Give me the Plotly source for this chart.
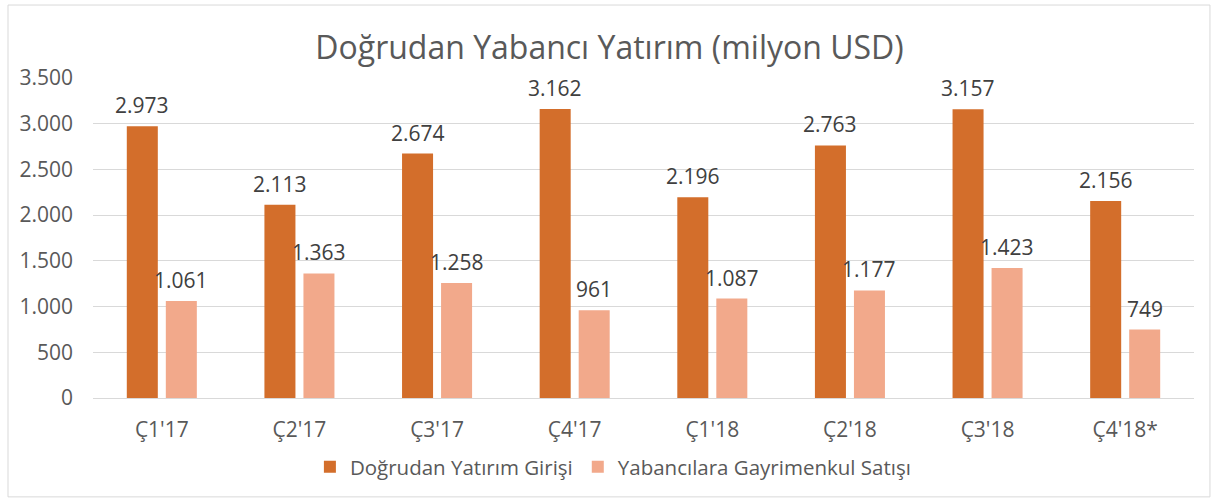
import plotly.graph_objects as go

categories = ["Ç1'17", "Ç2'17", "Ç3'17", "Ç4'17", "Ç1'18", "Ç2'18", "Ç3'18", "Ç4'18*"]
fdi_inflow = [2973, 2113, 2674, 3162, 2196, 2763, 3157, 2156]
real_estate = [1061, 1363, 1258, 961, 1087, 1177, 1423, 749]
tick_vals = [0, 500, 1000, 1500, 2000, 2500, 3000, 3500]

def tr(v):
    return f"{v:,}".replace(",", ".")

DARK = "#D36E2B"
LIGHT = "#F2A98B"
FONT = "Open Sans"
TXT = "#595959"

fig = go.Figure()
fig.add_trace(go.Bar(x=categories, y=fdi_inflow, name="Doğrudan Yatırım Girişi",
                     marker_color=DARK, marker_line_width=0))
fig.add_trace(go.Bar(x=categories, y=real_estate, name="Yabancılara Gayrimenkul Satışı",
                     marker_color=LIGHT, marker_line_width=0))

ann = []
for c, v in zip(categories, fdi_inflow):
    ann.append(dict(x=c, y=v, text=tr(v), showarrow=False, xref="x", yref="y",
                    yanchor="bottom", yshift=5, xshift=-19.5,
                    font=dict(family=FONT, size=21, color="#404040")))
for c, v in zip(categories, real_estate):
    ann.append(dict(x=c, y=v, text=tr(v), showarrow=False, xref="x", yref="y",
                    yanchor="bottom", yshift=5, xshift=19.5,
                    font=dict(family=FONT, size=21, color="#404040")))

fig.update_layout(
    width=1219, height=502,
    margin=dict(l=93, r=25, t=78, b=104),
    paper_bgcolor="white", plot_bgcolor="white",
    barmode="group", bargap=0.433, bargroupgap=0.205,
    title=dict(text="Doğrudan Yabancı Yatırım (milyon USD)", x=0.5, xanchor="center",
               y=0.905, yanchor="middle",
               font=dict(family=FONT, size=32, color=TXT)),
    font=dict(family=FONT, color=TXT),
    legend=dict(orientation="h", x=0.197, xanchor="left", y=-0.215, yanchor="middle",
                font=dict(family=FONT, size=20.5, color=TXT), itemwidth=30,
                traceorder="normal"),
    annotations=ann,
    shapes=[dict(type="rect", xref="paper", yref="paper",
                 x0=-0.0772, x1=1.0145, y0=-0.309, y1=1.228,
                 line=dict(color="#D9D9D9", width=1), fillcolor="rgba(0,0,0,0)", layer="below")],
)
fig.update_yaxes(range=[0, 3500], tickvals=tick_vals, ticktext=[tr(v) for v in tick_vals],
                 showgrid=True, gridcolor="#D9D9D9", gridwidth=1, zeroline=False,
                 showline=False, tickfont=dict(family=FONT, size=21, color=TXT),
                 ticklabelstandoff=19, fixedrange=True)
fig.update_xaxes(showline=True, linecolor="#D9D9D9", linewidth=1, showgrid=False,
                 tickfont=dict(family=FONT, size=21, color=TXT), ticklabelstandoff=13)

fig.write_html("out.html", config={"displayModeBar": False},
               post_script="document.body.style.margin='0';")
